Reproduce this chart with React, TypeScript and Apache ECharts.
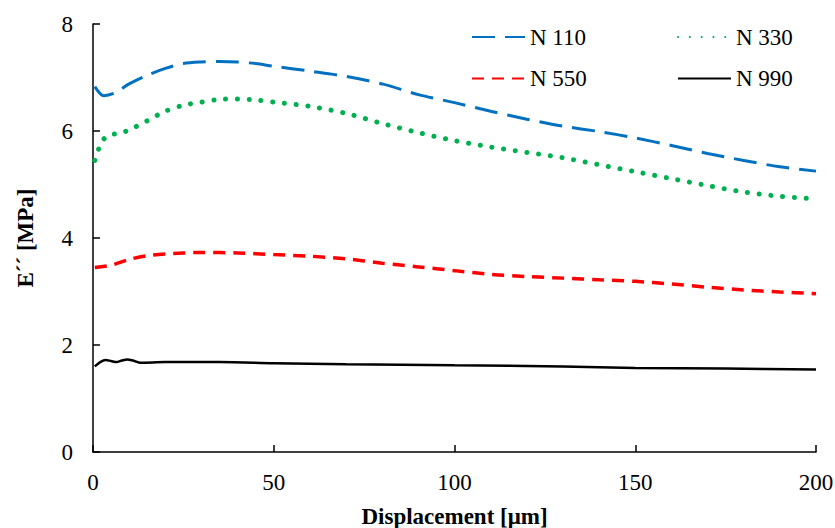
import React, { useEffect, useRef } from "react";
import * as echarts from "echarts";

const xTicks = [0, 50, 100, 150, 200];
const yTicks = [0, 2, 4, 6, 8];

const n110X = [0.5, 3, 6, 10, 15, 20, 25, 30, 35, 40, 45, 50, 60, 70, 80, 90, 100, 110, 120, 130, 140, 150, 160, 170, 180, 190, 200];
const n110Y = [6.83, 6.66, 6.71, 6.88, 7.04, 7.17, 7.26, 7.29, 7.3, 7.29, 7.26, 7.21, 7.12, 7.02, 6.88, 6.68, 6.53, 6.37, 6.22, 6.09, 5.99, 5.87, 5.73, 5.58, 5.45, 5.33, 5.25];

const n330X = [0.5, 2, 4, 7, 10, 15, 20, 25, 30, 35, 40, 45, 50, 60, 70, 80, 90, 100, 110, 120, 130, 140, 150, 160, 170, 180, 190, 200];
const n330Y = [5.45, 5.73, 5.92, 5.95, 6.02, 6.19, 6.37, 6.48, 6.54, 6.59, 6.6, 6.58, 6.54, 6.46, 6.33, 6.14, 5.97, 5.82, 5.7, 5.6, 5.5, 5.37, 5.24, 5.11, 4.98, 4.86, 4.78, 4.73];

const n550X = [0.5, 5, 10, 15, 20, 30, 40, 50, 60, 70, 80, 90, 100, 110, 120, 130, 140, 150, 160, 170, 180, 190, 200];
const n550Y = [3.45, 3.49, 3.6, 3.67, 3.7, 3.73, 3.72, 3.69, 3.66, 3.61, 3.53, 3.46, 3.39, 3.32, 3.28, 3.25, 3.22, 3.19, 3.14, 3.08, 3.03, 2.99, 2.96];

const n990X = [0.5, 2, 3.5, 5, 6.5, 8, 9.5, 11, 13, 20, 35, 50, 70, 100, 130, 150, 175, 200];
const n990Y = [1.6, 1.68, 1.72, 1.7, 1.68, 1.71, 1.73, 1.71, 1.67, 1.68, 1.68, 1.66, 1.64, 1.62, 1.6, 1.57, 1.56, 1.54];

const seriesNames = ["N 110", "N 330", "N 550", "N 990"];

const FONT = "Tinos";

function pairs(xs: number[], ys: number[]) {
  return xs.map((x, i) => [x, ys[i]]);
}

export default function App() {
  const ref = useRef<HTMLDivElement>(null);

  useEffect(() => {
    if (!ref.current) return;
    const chart = echarts.init(ref.current, undefined, { renderer: "svg" });
    const legendText = { fontFamily: FONT, fontSize: 23, color: "#000", lineHeight: 24 };
    const legendCommon = {
      orient: "vertical",
      top: 25,
      padding: 0,
      itemWidth: 53,
      itemHeight: 14,
      itemGap: 17.6,
      textStyle: legendText,
      selectedMode: false,
      itemStyle: { opacity: 0 },
    };
    const tickText = { fontFamily: FONT, fontSize: 23, color: "#000" };
    chart.setOption({
      animation: false,
      backgroundColor: "#fff",
      grid: {
        left: 93,
        right: 19,
        top: 24,
        bottom: 76,
        containLabel: false,
        outerBoundsMode: "none",
      },
      legend: [
        { ...legendCommon, data: [seriesNames[0], seriesNames[2]], left: 471 },
        { ...legendCommon, data: [seriesNames[1], seriesNames[3]], left: 677 },
      ],
      xAxis: {
        type: "value",
        min: xTicks[0],
        max: xTicks[xTicks.length - 1],
        interval: 50,
        name: "Displacement [μm]",
        nameLocation: "middle",
        nameGap: 53,
        nameTextStyle: { fontFamily: FONT, fontSize: 23, fontWeight: "bold", color: "#000" },
        axisLine: { show: true, lineStyle: { color: "#000", width: 1.5 } },
        axisTick: { show: true, inside: true, length: 7, lineStyle: { color: "#000", width: 1.5 } },
        axisLabel: { ...tickText, margin: 19 },
        splitLine: { show: false },
      },
      yAxis: {
        type: "value",
        min: yTicks[0],
        max: yTicks[yTicks.length - 1],
        interval: 2,
        name: "E´´ [MPa]",
        nameLocation: "middle",
        nameGap: 56,
        nameRotate: 90,
        nameTextStyle: { fontFamily: FONT, fontSize: 23, fontWeight: "bold", color: "#000" },
        axisLine: { show: true, lineStyle: { color: "#000", width: 1.5 } },
        axisTick: { show: true, inside: true, length: 7, lineStyle: { color: "#000", width: 1.5 } },
        axisLabel: { ...tickText, margin: 20 },
        splitLine: { show: false },
      },
      series: [
        {
          name: seriesNames[0],
          type: "line",
          data: pairs(n110X, n110Y),
          symbol: "none",
          smooth: 0.3,
          lineStyle: { color: "#0070C0", width: 3, type: [23, 10] },
          itemStyle: { color: "#0070C0" },
        },
        {
          name: seriesNames[1],
          type: "line",
          data: pairs(n330X, n330Y),
          symbol: "none",
          smooth: 0.3,
          lineStyle: { color: "#00B050", width: 5, type: [0.1, 11.7], cap: "round" },
          itemStyle: { color: "#00B050" },
        },
        {
          name: seriesNames[2],
          type: "line",
          data: pairs(n550X, n550Y),
          symbol: "none",
          smooth: 0.3,
          lineStyle: { color: "#FF0000", width: 3.5, type: [12, 8] },
          itemStyle: { color: "#FF0000" },
        },
        {
          name: seriesNames[3],
          type: "line",
          data: pairs(n990X, n990Y),
          symbol: "none",
          smooth: 0.3,
          lineStyle: { color: "#000000", width: 2.5, type: "solid" },
          itemStyle: { color: "#000000" },
        },
      ],
    });
    return () => chart.dispose();
  }, []);

  return (
    <div
      ref={ref}
      style={{ position: "fixed", left: 0, top: 0, width: 835, height: 528, background: "#fff" }}
    />
  );
}
